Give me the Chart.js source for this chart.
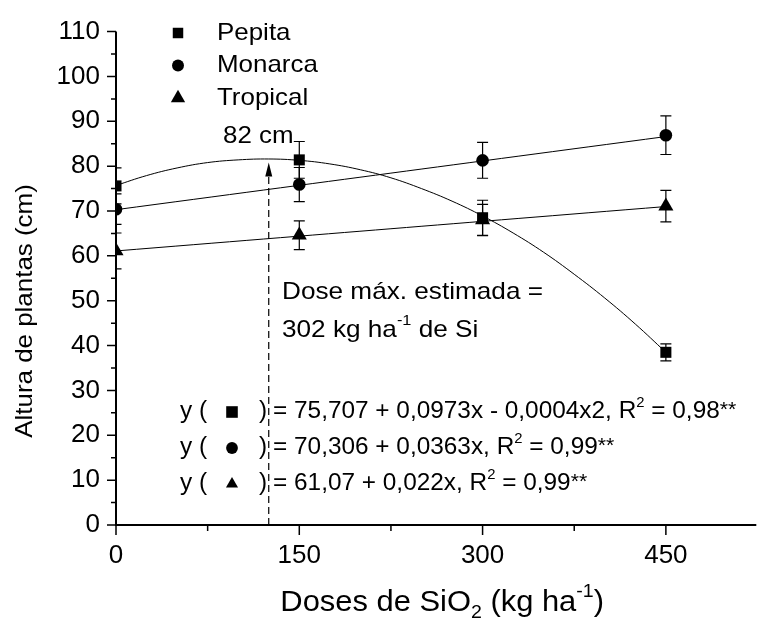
<!DOCTYPE html>
<html>
<head>
<meta charset="utf-8">
<script src="https://cdn.jsdelivr.net/npm/chart.js@4.4.1/dist/chart.umd.min.js"></script>
<style>
  body { margin: 0; background: #fff; }
  canvas { display: block; }
</style>
</head>
<body>
<canvas id="chart" width="765" height="627"></canvas>
<script>
const FONT = "'Liberation Sans', Arial, sans-serif";

// doses (kg/ha) and measured means
const doses = [0, 150, 300, 450];
const pepita = [75.6, 81.4, 68.5, 38.5];
const pepitaErr = [4.0, 4.1, 3.9, 1.9];
const monarca = [70.4, 75.9, 81.3, 86.9];
const monarcaErr = [3.4, 3.8, 4.0, 4.3];
const tropical = [61.1, 64.6, 68.0, 71.1];
const tropicalErr = [4.0, 3.2, 3.5, 3.5];

// fitted curves
const pepitaFitX = [0, 25, 50, 75, 100, 125, 150, 175, 200, 225, 250, 275, 300, 325, 350, 375, 400, 425, 450];
const pepitaFit = [75.7, 77.9, 79.6, 80.8, 81.4, 81.6, 81.3, 80.5, 79.2, 77.4, 75.0, 72.2, 68.9, 65.1, 60.8, 55.9, 50.6, 44.8, 38.5];
const lineFitX = [0, 450];
const monarcaFit = [70.3, 86.6];
const tropicalFit = [61.1, 71.0];

// estimated maximum (arrow)
const maxDose = 125;
const maxHeight = 80.8;

// axis ticks
const xTicks = [0, 150, 300, 450];
const xMinor = [75, 225, 375];
const yTicks = [0, 10, 20, 30, 40, 50, 60, 70, 80, 90, 100, 110];
const yMinor = [5, 15, 25, 35, 45, 55, 65, 75, 85, 95, 105];

const series = [
  { name: "Pepita", y: pepita, err: pepitaErr, style: "rect", r: 7.8, er: 8.2, eq: [["= 75,707 + 0,0973x - 0,0004x2, R", ""], ["2", "sup"], [" = 0,98", ""], ["**", "star"]] },
  { name: "Monarca", y: monarca, err: monarcaErr, style: "circle", r: 6.3, er: 5.9, eq: [["= 70,306 + 0,0363x, R", ""], ["2", "sup"], [" = 0,99", ""], ["**", "star"]] },
  { name: "Tropical", y: tropical, err: tropicalErr, style: "triangle", r: 8.7, er: 7.0, eq: [["= 61,07 + 0,022x, R", ""], ["2", "sup"], [" = 0,99", ""], ["**", "star"]] }
];

function pts(xs, ys) {
  return xs.map((x, i) => ({ x: x, y: ys[i] }));
}

// text with superscripts / subscripts, slightly stretched sideways like the original
function drawRich(ctx, parts, x, y, size, align, sx) {
  sx = sx || 1.08;
  const fontFor = m => (m === "star" ? Math.round(size * 0.85) : m ? Math.round(size * 0.62) : size) + "px " + FONT;
  let total = 0;
  parts.forEach(p => { ctx.font = fontFor(p[1]); total += ctx.measureText(p[0]).width; });
  total *= sx;
  let cx = align === "center" ? x - total / 2 : x;
  ctx.save();
  ctx.translate(cx, y);
  ctx.scale(sx, 1);
  ctx.textAlign = "left";
  ctx.textBaseline = "middle";
  let off = 0;
  parts.forEach(p => {
    ctx.font = fontFor(p[1]);
    let dy = 0;
    if (p[1] === "sup") dy = -size * 0.38;
    if (p[1] === "star") dy = -size * 0.08;
    if (p[1] === "sub") dy = size * 0.32;
    ctx.fillText(p[0], off, dy);
    off += ctx.measureText(p[0]).width;
  });
  ctx.restore();
}

function marker(ctx, style, r, x, y) {
  ctx.fillStyle = "#000";
  ctx.strokeStyle = "#000";
  Chart.helpers.drawPoint(ctx, { pointStyle: style, radius: r, rotation: 0, borderWidth: 0 }, x, y);
}

const extras = {
  id: "extras",
  afterDatasetsDraw(chart) {
    const ctx = chart.ctx;
    const xs = chart.scales.x, ys = chart.scales.y;
    const area = chart.chartArea;
    ctx.save();
    ctx.beginPath();
    ctx.rect(area.left, 0, chart.width - area.left, chart.height);
    ctx.clip();
    ctx.strokeStyle = "#000";
    ctx.lineWidth = 1.2;
    series.forEach(s => {
      doses.forEach((d, i) => {
        const px = xs.getPixelForValue(d);
        const top = ys.getPixelForValue(s.y[i] + s.err[i]);
        const bot = ys.getPixelForValue(s.y[i] - s.err[i]);
        ctx.beginPath();
        ctx.moveTo(px, top); ctx.lineTo(px, bot);
        ctx.moveTo(px - 5.5, top); ctx.lineTo(px + 5.5, top);
        ctx.moveTo(px - 5.5, bot); ctx.lineTo(px + 5.5, bot);
        ctx.stroke();
      });
    });
    ctx.restore();
  },
  afterDraw(chart) {
    const ctx = chart.ctx;
    const xs = chart.scales.x, ys = chart.scales.y;
    const area = chart.chartArea;
    ctx.save();
    ctx.strokeStyle = "#000";
    ctx.fillStyle = "#000";

    // axes and ticks
    ctx.lineWidth = 2;
    ctx.beginPath();
    ctx.moveTo(area.left, area.top); ctx.lineTo(area.left, area.bottom + 1);
    ctx.moveTo(area.left - 1, area.bottom); ctx.lineTo(area.right, area.bottom);
    ctx.stroke();
    ctx.lineWidth = 1.5;
    ctx.beginPath();
    yTicks.forEach(v => { const p = ys.getPixelForValue(v); ctx.moveTo(area.left - 9, p); ctx.lineTo(area.left, p); });
    yMinor.forEach(v => { const p = ys.getPixelForValue(v); ctx.moveTo(area.left - 5, p); ctx.lineTo(area.left, p); });
    xTicks.forEach(v => { const p = xs.getPixelForValue(v); ctx.moveTo(p, area.bottom); ctx.lineTo(p, area.bottom + 10); });
    xMinor.forEach(v => { const p = xs.getPixelForValue(v); ctx.moveTo(p, area.bottom); ctx.lineTo(p, area.bottom + 6); });
    ctx.stroke();

    // dashed arrow at the estimated max dose
    const ax = xs.getPixelForValue(maxDose);
    const tip = ys.getPixelForValue(maxHeight);
    ctx.lineWidth = 1.2;
    ctx.setLineDash([7, 4]);
    ctx.beginPath();
    ctx.moveTo(ax, area.bottom); ctx.lineTo(ax, tip + 12);
    ctx.stroke();
    ctx.setLineDash([]);
    ctx.beginPath();
    ctx.moveTo(ax, tip); ctx.lineTo(ax - 3.5, tip + 14); ctx.lineTo(ax + 3.5, tip + 14); ctx.closePath();
    ctx.fill();

    // legend
    series.forEach((s, i) => {
      const ly = 33 + i * 32.5;
      marker(ctx, s.style, s.r * 0.95, 178, ly);
      ctx.fillStyle = "#000";
      drawRich(ctx, [[s.name, ""]], 217, ly, 24, "left", 1.08);
    });

    // annotations
    drawRich(ctx, [["82 cm", ""]], 223, 136, 24, "left", 1.08);
    drawRich(ctx, [["Dose máx. estimada =", ""]], 282, 292, 24, "left", 1.09);
    drawRich(ctx, [["302 kg ha", ""], ["-1", "sup"], [" de Si", ""]], 282, 330, 24, "left", 1.09);

    // regression equations
    series.forEach((s, i) => {
      const ey = 412 + i * 36;
      drawRich(ctx, [["y (", ""]], 180, ey, 23, "left", 1.06);
      marker(ctx, s.style, s.er, 232, ey);
      ctx.fillStyle = "#000";
      drawRich(ctx, [[")", ""]], 259, ey, 23, "left", 1.06);
      drawRich(ctx, s.eq, 273, ey, 23, "left", 1.06);
    });

    // axis titles
    drawRich(ctx, [["Doses de SiO", ""], ["2", "sub"], [" (kg ha", ""], ["-1", "sup"], [")", ""]],
      (area.left + area.right) / 2 + 6, 603, 30, "center", 1.03);
    ctx.save();
    ctx.translate(25, 311);
    ctx.rotate(-Math.PI / 2);
    drawRich(ctx, [["Altura de plantas (cm)", ""]], 0, 0, 24, "center", 1.08);
    ctx.restore();

    ctx.restore();
  }
};

const pointSet = s => ({
  data: pts(doses, s.y),
  pointStyle: s.style,
  pointRadius: s.r,
  pointHoverRadius: s.r,
  backgroundColor: "#000",
  borderColor: "#000",
  borderWidth: 0,
  showLine: false,
  clip: { left: 0, top: false, right: false, bottom: false }
});

const lineSet = (xsArr, ysArr) => ({
  data: pts(xsArr, ysArr),
  showLine: true,
  borderColor: "#000",
  borderWidth: 1,
  pointRadius: 0,
  tension: 0.4,
  fill: false
});

new Chart(document.getElementById("chart"), {
  type: "scatter",
  data: {
    datasets: [
      lineSet(pepitaFitX, pepitaFit),
      lineSet(lineFitX, monarcaFit),
      lineSet(lineFitX, tropicalFit),
      pointSet(series[0]),
      pointSet(series[1]),
      pointSet(series[2])
    ]
  },
  options: {
    responsive: false,
    devicePixelRatio: 1,
    animation: false,
    layout: { padding: { top: 30, right: 0, left: 0, bottom: 0 } },
    plugins: { legend: { display: false }, tooltip: { enabled: false } },
    scales: {
      x: {
        type: "linear",
        min: 0,
        max: 524,
        grid: { display: false, drawTicks: false },
        border: { display: false },
        ticks: {
          stepSize: 150,
          includeBounds: false,
          padding: 15,
          color: "#000",
          font: { family: FONT, size: 26 }
        },
        afterFit(scale) { scale.height = 102; }
      },
      y: {
        min: 0,
        max: 110,
        grid: { display: false, drawTicks: false },
        border: { display: false },
        ticks: {
          stepSize: 10,
          padding: 16,
          color: "#000",
          font: { family: FONT, size: 26 }
        },
        afterFit(scale) { scale.width = 116; }
      }
    }
  },
  plugins: [extras]
});
</script>
</body>
</html>
